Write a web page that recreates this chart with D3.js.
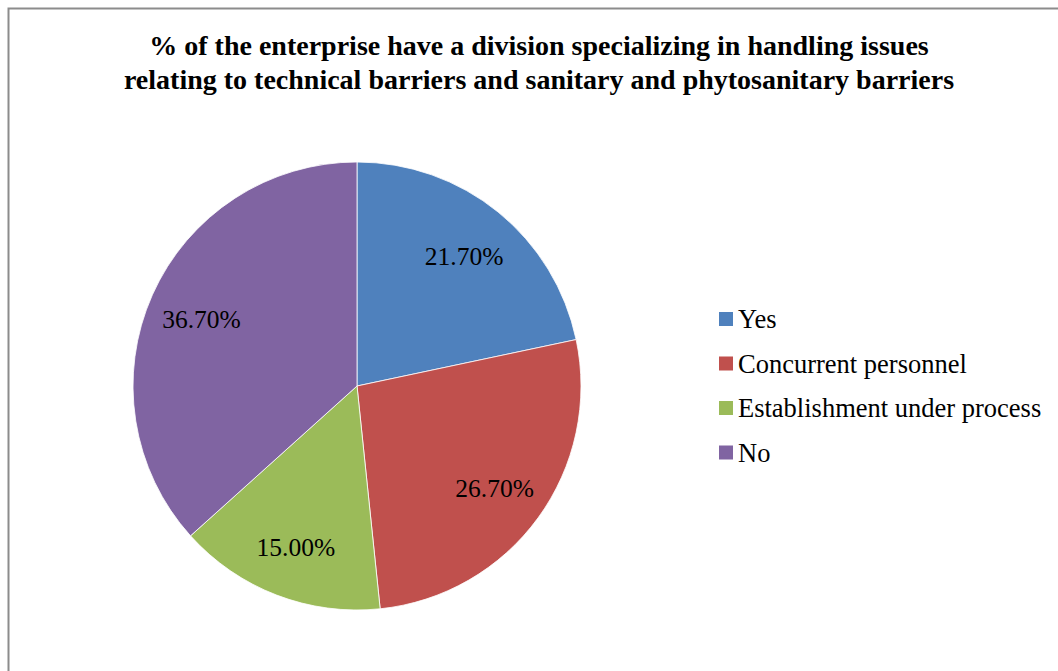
<!DOCTYPE html>
<html>
<head>
<meta charset="utf-8">
<script src="https://cdn.jsdelivr.net/npm/d3@7"></script>
<style>
  body { margin: 0; background: #fff; }
  text { font-family: "Liberation Serif", "Times New Roman", serif; fill: #000; }
</style>
</head>
<body>
<svg id="chart" width="1058" height="671"></svg>
<script>
// chart data
const categories = ["Yes", "Concurrent personnel", "Establishment under process", "No"];
const shares = [21.7, 26.7, 15.0, 36.7];
const colors = ["#4f81bd", "#c0504d", "#9bbb59", "#8064a2"];
const titleLines = [
    "% of the enterprise have a division specializing in handling issues",
    "relating to technical barriers and sanitary and phytosanitary barriers"
];

const svg = d3.select("#chart");

// outer frame (runs off the right/bottom edge like the original)
svg.append("rect")
    .attr("x", 8.5).attr("y", 8.5)
    .attr("width", 1100).attr("height", 700)
    .attr("fill", "none")
    .attr("stroke", "#8c8c8c")
    .attr("stroke-width", 2);

// title
svg.append("g").selectAll("text")
    .data(titleLines)
    .enter()
    .append("text")
    .attr("x", 539)
    .attr("y", (d, i) => 55 + i * 34)
    .attr("text-anchor", "middle")
    .style("font-size", "28px")
    .style("font-weight", "bold")
    .text(d => d);

// pie
const cx = 357, cy = 386, r = 224;
const pie = d3.pie().sort(null).value(d => d);
const arcs = pie(shares);
const arc = d3.arc().innerRadius(0).outerRadius(r);
const labelArc = d3.arc().innerRadius(r * 0.76).outerRadius(r * 0.76);

const g = svg.append("g").attr("transform", `translate(${cx},${cy})`);

g.selectAll("path")
    .data(arcs)
    .enter()
    .append("path")
    .attr("d", arc)
    .attr("fill", (d, i) => colors[i])
    .attr("stroke", "#fff")
    .attr("stroke-width", 0.8);

g.selectAll("text.lbl")
    .data(arcs)
    .enter()
    .append("text")
    .attr("class", "lbl")
    .attr("transform", d => {
        const [x, y] = labelArc.centroid(d);
        return `translate(${x},${y + 2})`;
    })
    .attr("text-anchor", "middle")
    .attr("dy", "0.35em")
    .style("font-size", "25.5px")
    .text(d => d.data.toFixed(2) + "%");

// legend
const legend = svg.append("g").attr("transform", "translate(719,312)");
const rows = legend.selectAll("g")
    .data(categories)
    .enter()
    .append("g")
    .attr("transform", (d, i) => `translate(0,${i * 44.5})`);

rows.append("rect")
    .attr("width", 14).attr("height", 14)
    .attr("fill", (d, i) => colors[i]);

rows.append("text")
    .attr("x", 19)
    .attr("y", 7)
    .attr("dy", "0.35em")
    .style("font-size", "26.5px")
    .text(d => d);
</script>
</body>
</html>
